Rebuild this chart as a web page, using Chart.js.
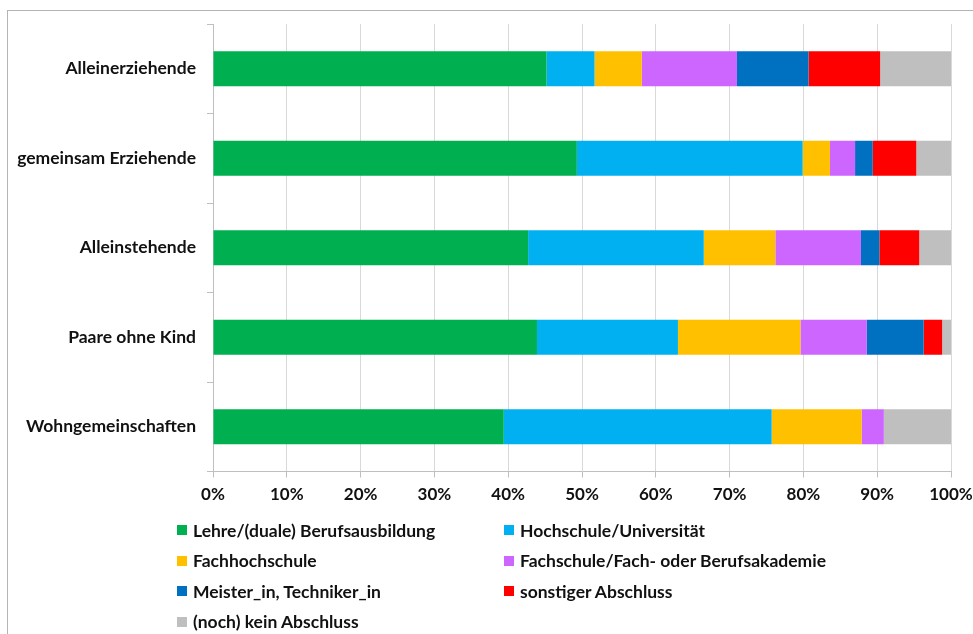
<!DOCTYPE html>
<html>
<head>
<meta charset="utf-8">
<script src="https://cdn.jsdelivr.net/npm/chart.js@4.4.1/dist/chart.umd.min.js"></script>
<style>
	body { margin: 0; background: #fff; font-family: "Lato", sans-serif; }
	#wrap { position: relative; width: 973px; height: 634px; overflow: hidden; }
	#frame { position: absolute; left: 7px; top: 10px; width: 980px; height: 640px; border: 1px solid #b4b4b4; box-sizing: border-box; }
	#myChart { position: absolute; left: 0; top: 0; }
	#legend { position: absolute; left: 177px; top: 515px; display: grid; grid-template-columns: 327px auto; grid-auto-rows: 30.5px; }
	.item { display: flex; align-items: center; font-weight: bold; font-size: 17.5px; color: #111; }
	.box { width: 10px; height: 10px; margin-right: 6px; }
</style>
</head>
<body>
<div id="wrap">
	<div id="frame"></div>
	<canvas id="myChart" width="973" height="634"></canvas>
	<div id="legend"></div>
</div>
<script>
var categories = ["Alleinerziehende", "gemeinsam Erziehende", "Alleinstehende", "Paare ohne Kind", "Wohngemeinschaften"];
var seriesNames = [
	"Lehre/(duale) Berufsausbildung",
	"Hochschule/Universität",
	"Fachhochschule",
	"Fachschule/Fach- oder Berufsakademie",
	"Meister_in, Techniker_in",
	"sonstiger Abschluss",
	"(noch) kein Abschluss",
];
var lehre = [45.2, 49.3, 42.7, 43.9, 39.4];
var hochschule = [6.5, 30.6, 23.8, 19.1, 36.3];
var fachhochschule = [6.4, 3.7, 9.7, 16.6, 12.2];
var fachschule = [12.9, 3.4, 11.6, 9.0, 3.0];
var meister = [9.7, 2.4, 2.5, 7.7, 0];
var sonstiger = [9.7, 5.9, 5.4, 2.5, 0];
var keinAbschluss = [9.6, 4.7, 4.3, 1.2, 9.1];
var xTicks = [0, 10, 20, 30, 40, 50, 60, 70, 80, 90, 100];

var colors = ["#00B050", "#00B0F0", "#FFC000", "#CC66FF", "#0070C0", "#FF0000", "#BFBFBF"];
var values = [lehre, hochschule, fachhochschule, fachschule, meister, sonstiger, keinAbschluss];

var datasets = [];
for (var i = 0; i < values.length; i++) {
	datasets.push({
		label: seriesNames[i],
		data: values[i],
		backgroundColor: colors[i],
		borderWidth: 0,
		barPercentage: 0.39,
		categoryPercentage: 1,
	});
}

var ctx = document.getElementById("myChart").getContext("2d");
var myChart = new Chart(ctx, {
	type: "bar",
	data: { labels: categories, datasets: datasets },
	options: {
		indexAxis: "y",
		responsive: false,
		animation: false,
		layout: { padding: { left: 0, right: 22, top: 24, bottom: 122.5 } },
		plugins: { legend: { display: false }, tooltip: { enabled: false } },
		scales: {
			x: {
				stacked: true,
				min: 0,
				max: 100,
				afterBuildTicks: function (scale) {
					scale.ticks = xTicks.map(function (v) { return { value: v }; });
				},
				afterFit: function (scale) {
					scale.height = 40;
					scale.paddingLeft = 0;
					scale.paddingRight = 0;
				},
				ticks: {
					callback: function (v) { return v + "%"; },
					color: "#111",
					font: { family: "Lato", size: 17, weight: "bold" },
					padding: 7,
					maxRotation: 0,
				},
				grid: { color: "#d9d9d9", tickColor: "#bfbfbf", tickLength: 6 },
				border: { color: "#bfbfbf" },
			},
			y: {
				stacked: true,
				afterFit: function (scale) { scale.width = 213; },
				ticks: { color: "#111", font: { family: "Lato", size: 17.5, weight: "bold" }, padding: 11 },
				grid: { drawOnChartArea: false, color: "#bfbfbf", tickLength: 6 },
				border: { color: "#bfbfbf" },
			},
		},
	},
});

// legend in two columns like the original
var legend = document.getElementById("legend");
myChart.data.datasets.forEach(function (ds) {
	var item = document.createElement("div");
	item.className = "item";
	var box = document.createElement("span");
	box.className = "box";
	box.style.background = ds.backgroundColor;
	item.appendChild(box);
	item.appendChild(document.createTextNode(ds.label));
	legend.appendChild(item);
});
</script>
</body>
</html>
